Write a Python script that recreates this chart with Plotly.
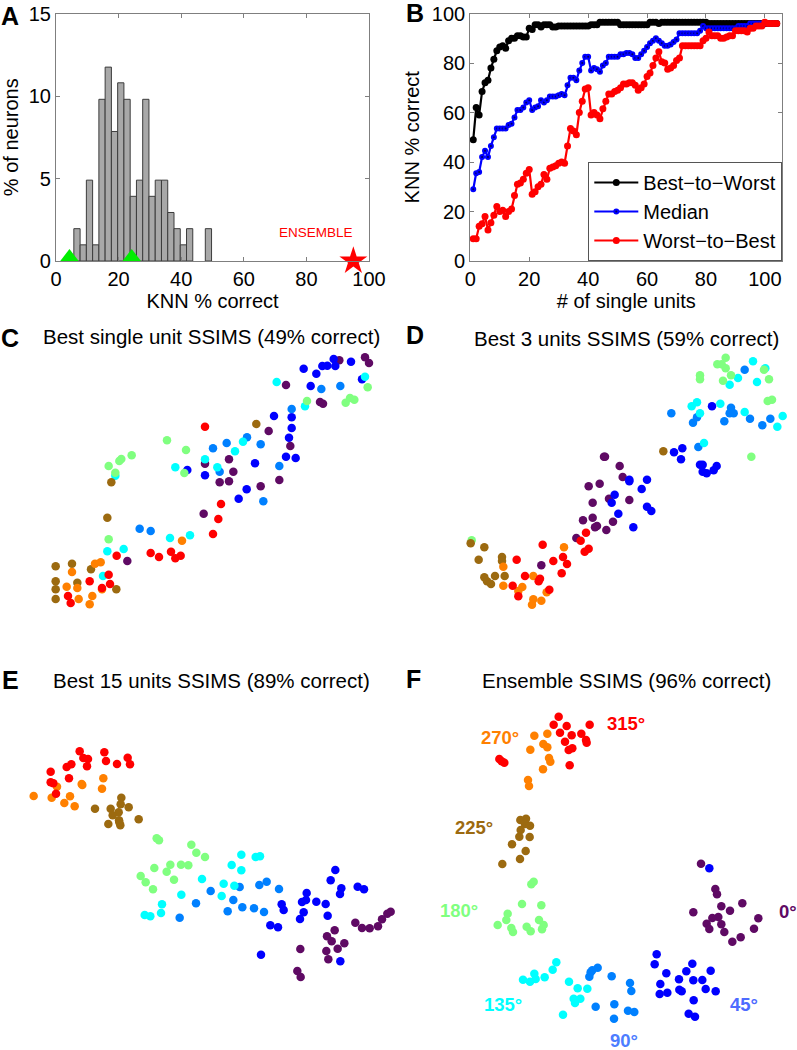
import plotly.graph_objects as go

W, H = 797, 1050

# Panel A: histogram
hist_centers = [6.7, 8.7, 10.7, 12.7, 14.7, 16.7, 18.7, 20.7, 22.7, 24.7, 26.7, 28.7, 30.7, 32.7, 34.7, 36.7, 38.7, 40.7, 42.7, 48.7]
hist_values = [1.96, 0.98, 4.9, 0.98, 9.8, 11.75, 7.85, 10.8, 9.8, 3.92, 4.9, 9.8, 3.92, 4.9, 4.9, 2.94, 1.96, 0.98, 1.96, 1.96]
triangle_x = [4.3, 24.2]
triangle_y = [0.24, 0.24]
star_x = [95]
star_y = [0]

# Panel B: KNN curves
units = list(range(1, 105))
best_to_worst = [49, 62, 59, 68.5, 72, 73, 78, 81.5, 85, 86.5, 87, 86, 89, 90, 90, 91, 91, 90.5, 90.5, 94,
                 93.5, 95.5, 95.5, 94.5, 95.5, 95.5, 95.5, 94.5, 94.5, 95, 95, 95, 95, 95, 95, 95, 95, 95, 95, 95,
                 95.5, 95.5, 95.5, 96.5, 96.5, 96.5, 96.5, 96.5, 96.5, 96.5, 95.5, 95.5, 95.5, 95.5, 95.5, 95.5, 95.5, 95.5, 95.5, 95.5,
                 96.5, 96.5, 96.5, 96, 96.5, 96.5, 96.5, 96.5, 96.5, 96.5, 96.5, 96.5, 96.5, 96.5, 96.5, 96.5, 96.5, 96.5, 96.5, 96.5,
                 96, 96, 96, 96, 96, 96, 96, 96, 96, 96, 96, 96, 96, 96, 96, 96, 96, 96, 96, 96,
                 96, 96, 96, 96]
median = [29, 35.5, 36, 42, 44.5, 42, 46.5, 50, 53.5, 53.5, 53.5, 53.5, 55, 55.5, 58, 61, 61, 62, 64, 65,
          61, 62, 62.5, 65, 64, 65, 66.5, 66.5, 66.5, 67, 67.5, 67, 71, 74, 74, 73, 77, 80, 82.5, 82.5,
          77, 78, 77.5, 76.5, 79, 80, 82.5, 82.5, 82.5, 82.5, 83.5, 83.5, 84, 84, 83.5, 82, 82, 83.5, 85, 86.5,
          88, 89, 90, 89, 88, 87, 87, 87.5, 88.5, 89.5, 92, 92, 92, 92, 92, 92, 92, 93, 95, 94,
          94, 94, 94, 94, 94, 94, 94, 94, 94, 94, 95, 95, 95, 95, 96, 96, 96, 96, 96, 96,
          96, 96, 96, 96]
worst_to_best = [9, 9, 14, 15, 18, 12.5, 15.5, 18.5, 22, 20, 20.5, 18, 20, 21, 26.5, 31, 31.5, 33, 35.5, 37,
                 27, 28, 30, 31, 35, 33, 37.5, 38, 38.5, 39.5, 40, 39.5, 46.5, 53.5, 52.5, 51, 60, 64.5, 69.5, 70,
                 59, 60, 59, 57.5, 61.5, 64.5, 67.5, 67.5, 68.5, 69, 70, 71.5, 71.5, 72, 72, 71, 69, 70, 71.5, 74.5,
                 76, 79, 82, 84.5, 80.5, 80, 77.5, 78, 79, 81, 82, 87, 87, 87, 87, 87, 87, 87, 89, 90,
                 92.5, 91, 91, 91, 90, 90, 90.5, 91, 91, 93, 93, 93, 93, 92.5, 94, 94, 95, 95, 95, 96.5,
                 96, 96, 96, 96]

# Direction colours
dir_colors = ["#5f0a64", "#0000ff", "#0080ff", "#00ffff", "#80ff80", "#9c6a10", "#ff8000", "#ff0000"]

# Panel C embedding
C_000 = [(1018,121),(1095,112),(1107,129),(858,195),(960,246),(969,251),(806,333),(871,378),(687,418),(615,431),(700,455),(687,484),(659,487),(782,499),(838,480),(611,581),(382,723)]
C_045 = [(1001,117),(1006,138),(982,137),(967,138),(1053,125),(911,146),(949,161),(1086,178),(932,198),(822,288),(875,292),(875,324),(867,353),(858,410),(887,414),(765,430),(615,466),(562,450),(740,508),(716,536)]
C_090 = [(964,207),(1021,198),(875,267),(741,352),(680,369),(782,373),(639,385),(838,438),(659,455),(790,544),(419,626),(452,633)]
C_135 = [(830,186),(1095,170),(915,259),(729,365),(705,394),(615,418),(526,442),(652,442),(346,467),(510,654),(570,646),(371,687),(322,694),(309,768)]
C_180 = [(921,243),(1103,202),(1037,248),(1050,234),(1063,239),(501,361),(558,390),(395,406),(364,417),(358,423),(326,438),(346,458),(553,459),(326,658)]
C_225 = [(769,312),(334,487),(322,593),(216,731),(167,739),(273,748),(232,788),(167,784),(167,808),(349,808),(167,837)]
C_270 = [(546,662),(302,727),(285,731),(216,756),(200,800),(232,804),(306,808),(277,828),(236,837),(269,853)]
C_315 = [(615,320),(663,552),(655,597),(639,642),(350,707),(452,699),(477,711),(513,695),(526,715),(542,707),(326,764),(269,784),(330,792),(306,804),(204,828),(212,849)]

# Panel D embedding
D_000 = [(612,410),(615,410),(659,438),(668,471),(599,491),(566,499),(627,536),(578,548),(688,540),(578,593),(549,601),(639,605),(591,618),(585,622),(619,630),(529,654),(424,736)]
D_045 = [(936,259),(847,385),(822,397),(843,418),(900,434),(908,434),(950,438),(941,451),(908,455),(920,460),(688,479),(688,484),(741,479),(725,507),(644,524),(635,548),(741,560),(754,573),(655,581),(700,622)]
D_090 = [(1034,149),(993,263),(814,280),(989,280),(1001,280),(891,292),(879,308),(973,304),(1050,296),(1111,296),(1087,316),(895,381)]
D_135 = [(1059,124),(1096,145),(1014,174),(1071,186),(989,194),(891,247),(875,259),(961,251),(900,280),(1034,276),(1148,288),(1132,320),(912,369)]
D_180 = [(977,113),(952,133),(965,133),(977,145),(1092,149),(993,166),(900,166),(900,178),(969,182),(1107,178),(1103,243),(1116,239),(1054,410),(215,661)]
D_225 = [(790,394),(212,670),(253,682),(236,719),(306,711),(306,723),(285,768),(314,768),(253,772),(261,784),(273,792)]
D_270 = [(492,682),(310,740),(400,768),(310,797),(367,801),(355,813),(440,817),(400,838),(424,842),(396,854)]
D_315 = [(558,638),(542,662),(428,674),(566,686),(554,695),(350,719),(460,723),(489,711),(501,732),(485,760),(375,768),(420,776),(416,784),(338,797),(448,809),(355,829)]

# Panel E embedding
E_000 = [(1172,755),(1162,761),(1146,778),(1066,788),(1134,799),(1086,804),(1109,805),(1004,811),(981,829),(995,844),(1033,850),(1013,866),(901,867),(979,873),(985,898),(892,933),(902,951)]
E_045 = [(1006,630),(992,661),(1073,680),(1092,688),(1024,685),(1020,702),(920,699),(918,720),(906,726),(949,725),(977,732),(845,733),(851,750),(911,757),(983,767),(900,777),(811,796),(834,802),(783,884),(1021,904)]
E_090 = [(800,665),(778,675),(837,687),(632,693),(700,720),(588,730),(727,742),(762,745),(683,754),(792,756),(539,773),(719,681)]
E_135 = [(724,584),(767,591),(780,589),(695,615),(724,631),(606,657),(671,671),(703,677),(544,704),(665,708),(486,733),(483,759),(434,765),(451,769)]
E_180 = [(470,535),(477,541),(574,554),(589,578),(615,591),(511,614),(543,614),(565,616),(463,624),(500,635),(422,648),(522,659),(437,667),(459,688)]
E_225 = [(364,413),(362,433),(386,442),(285,446),(332,446),(356,457),(338,466),(416,478),(357,481),(325,492),(361,496),(358,487)]
E_270 = [(310,355),(171,380),(245,372),(247,375),(306,386),(101,408),(155,413),(210,409),(193,429),(224,439)]
E_315 = [(239,274),(250,294),(264,297),(313,277),(383,293),(318,303),(261,319),(351,312),(390,313),(214,313),(200,321),(152,335),(207,355),(152,367),(160,370),(168,401)]

# Panel F embedding
F_000 = [(903,611),(946,687),(951,703),(1027,730),(964,739),(990,752),(880,757),(955,771),(937,774),(1075,775),(920,791),(964,793),(1062,806),(928,807),(973,816),(1022,832),(997,845)]
F_045 = [(928,625),(770,883),(764,913),(877,911),(799,940),(859,934),(932,932),(837,958),(880,961),(907,960),(781,972),(917,987),(947,994),(838,989),(845,994),(779,1002),(802,998),(881,1021),(866,1061),(885,1070)]
F_090 = [(593,923),(577,931),(568,950),(635,949),(690,969),(694,993),(587,1040),(643,1033),(684,1052),(703,1056),(642,1076),(572,937)]
F_135 = [(469,907),(458,929),(403,941),(434,952),(407,957),(369,959),(390,965),(507,965),(533,985),(562,986),(541,1016),(521,1016),(525,1029),(489,1064)]
F_180 = [(401,665),(394,673),(366,732),(424,736),(323,761),(319,780),(417,780),(293,795),(431,795),(380,800),(334,804),(339,816),(392,814),(426,808)]
F_225 = [(378,476),(361,480),(375,492),(390,497),(362,510),(358,530),(389,531),(336,553),(377,573),(360,597),(307,612)]
F_270 = [(403,227),(442,221),(430,252),(442,262),(391,269),(447,294),(451,305),(429,328),(384,360),(387,378)]
F_315 = [(476,170),(461,194),(500,198),(569,194),(480,218),(515,226),(544,221),(495,245),(558,240),(560,248),(517,265),(506,270),(298,297),(305,304),(313,308),(509,316)]

panel_titles = ["Best single unit SSIMS (49% correct)", "Best 3 units SSIMS (59% correct)",
                "Best 15 units SSIMS (89% correct)", "Ensemble SSIMS (96% correct)"]
panel_letters = ["A", "B", "C", "D", "E", "F"]
angle_labels = ["315°", "270°", "225°", "180°", "135°", "90°", "45°", "0°"]

FONT = "Liberation Sans"
GRAY = "#7f7f7f"

def dx(px):
    return px / W

def dy(px):
    return 1 - px / H

fig = go.Figure()

# --- Panel A
fig.add_trace(go.Bar(x=hist_centers, y=hist_values, width=2.0, marker=dict(color="#a8a8a8", line=dict(color="#3c3c3c", width=1)),
                     xaxis="x", yaxis="y", showlegend=False))
fig.add_trace(go.Scatter(x=triangle_x, y=triangle_y, mode="markers", marker=dict(symbol="triangle-up", size=16, color="#00ee00"),
                         cliponaxis=False, xaxis="x", yaxis="y", showlegend=False))
fig.add_trace(go.Scatter(x=star_x, y=star_y, mode="markers", marker=dict(symbol="star", size=21, color="#ff0000"),
                         cliponaxis=False, xaxis="x", yaxis="y", showlegend=False))

# --- Panel B
for name, ys, lc, mc, ms in [
    ("Best−to−Worst", best_to_worst, "#000000", "#000000", 7),
    ("Median", median, "#0000ff", "#000060", 4),
    ("Worst−to−Best", worst_to_best, "#ff0000", "#ff0000", 7),
]:
    fig.add_trace(go.Scatter(x=units, y=ys, mode="lines+markers", name=name, legendgroup=name,
                             line=dict(color=lc, width=2.2),
                             marker=dict(color=mc, size=ms, line=dict(color=lc, width=2 if ms < 7 else 0)),
                             xaxis="x2", yaxis="y2", cliponaxis=False))

# --- Scatter panels
panels = [
    ("x3", "y3", [C_000, C_045, C_090, C_135, C_180, C_225, C_270, C_315]),
    ("x4", "y4", [D_000, D_045, D_090, D_135, D_180, D_225, D_270, D_315]),
    ("x5", "y5", [E_000, E_045, E_090, E_135, E_180, E_225, E_270, E_315]),
    ("x6", "y6", [F_000, F_045, F_090, F_135, F_180, F_225, F_270, F_315]),
]
for xa, ya, groups in panels:
    for pts, col in zip(groups, dir_colors):
        fig.add_trace(go.Scatter(x=[p[0] for p in pts], y=[p[1] for p in pts], mode="markers",
                                 marker=dict(size=8.5, color=col), xaxis=xa, yaxis=ya, showlegend=False,
                                 cliponaxis=False))

box = dict(showline=True, linecolor=GRAY, linewidth=1.2, mirror="ticks", ticks="inside", ticklen=4, tickcolor=GRAY,
           tickwidth=1, showgrid=False, zeroline=False, tickfont=dict(family=FONT, size=20, color="#000000"))
hidden = dict(visible=False, showgrid=False, zeroline=False)

layout = dict(
    width=W, height=H, margin=dict(l=0, r=0, t=0, b=0, autoexpand=False), paper_bgcolor="white", plot_bgcolor="white",
    font=dict(family=FONT, color="#000000"), barmode="overlay",
    xaxis=dict(domain=[dx(56), dx(369)], range=[0, 100], tickvals=[0, 20, 40, 60, 80, 100],
               title=dict(text="KNN % correct", standoff=3, font=dict(size=20)), anchor="y", **box),
    yaxis=dict(domain=[dy(261), dy(13.5)], range=[0, 15], tickvals=[0, 5, 10, 15],
               title=dict(text="% of neurons", standoff=6, font=dict(size=20)), anchor="x", **box),
    xaxis2=dict(domain=[dx(470.3), dx(782.3)], range=[0, 105.9], tickvals=[0, 20, 40, 60, 80, 100],
                title=dict(text="# of single units", standoff=3, font=dict(size=20)), anchor="y2", **box),
    yaxis2=dict(domain=[dy(261), dy(13.5)], range=[0, 100], tickvals=[0, 20, 40, 60, 80, 100],
                title=dict(text="KNN % correct", standoff=6, font=dict(size=20)), anchor="x2", **box),
    xaxis3=dict(domain=[dx(0), dx(400)], range=[0, 1200], anchor="y3", **hidden),
    yaxis3=dict(domain=[dy(640), dy(320)], range=[960, 0], anchor="x3", **hidden),
    xaxis4=dict(domain=[dx(400), dx(797)], range=[0, 1191], anchor="y4", **hidden),
    yaxis4=dict(domain=[dy(640), dy(320)], range=[960, 0], anchor="x4", **hidden),
    xaxis5=dict(domain=[dx(0), dx(400)], range=[0, 1200], anchor="y5", **hidden),
    yaxis5=dict(domain=[dy(1000), dy(660)], range=[1020, 0], anchor="x5", **hidden),
    xaxis6=dict(domain=[dx(400), dx(797)], range=[0, 1191], anchor="y6", **hidden),
    yaxis6=dict(domain=[dy(1050), dy(660)], range=[1170, 0], anchor="x6", **hidden),
    legend=dict(x=dx(782.3), y=dy(261), xanchor="right", yanchor="bottom", bgcolor="white",
                bordercolor="#555555", borderwidth=1, font=dict(family=FONT, size=20), itemwidth=44,
                tracegroupgap=3, traceorder="normal"),
    showlegend=True,
)
fig.update_layout(**layout)

annots = []
def note(text, x, y, size, color="#000000", bold=False, anchor="center"):
    annots.append(dict(text=f"<b>{text}</b>" if bold else text, x=dx(x), y=dy(y), xref="paper", yref="paper",
                       showarrow=False, xanchor=anchor, yanchor="middle",
                       font=dict(family=FONT, size=size, color=color)))

note("ENSEMBLE", 316, 232, 13.5, "#ff0000")
for letter, px, py in zip(panel_letters, [10, 415, 10, 415, 10, 413], [16, 13, 338, 335, 680, 679]):
    note(letter, px, py, 25, bold=True)
note(panel_titles[0], 212, 337, 20.5)
note(panel_titles[1], 626, 338, 20.5)
note(panel_titles[2], 212, 680, 20.5)
note(panel_titles[3], 626, 680, 20.5)

angle_x = [626, 500, 474, 459, 503, 624, 744, 788]
angle_y = [723, 737, 827, 910, 1004, 1040, 1004, 911]
angle_colors = ["#ff0000", "#ff8000", "#9c6a10", "#80ff80", "#00ffff", "#4d7dff", "#4d6bff", "#5f0a64"]
for lab, px, py, col in zip(angle_labels, angle_x, angle_y, angle_colors):
    note(lab, px, py, 18.5, col, bold=True)

fig.update_layout(annotations=annots)
fig.write_html("out.html", config={"displayModeBar": False}, post_script="document.body.style.margin='0';")
